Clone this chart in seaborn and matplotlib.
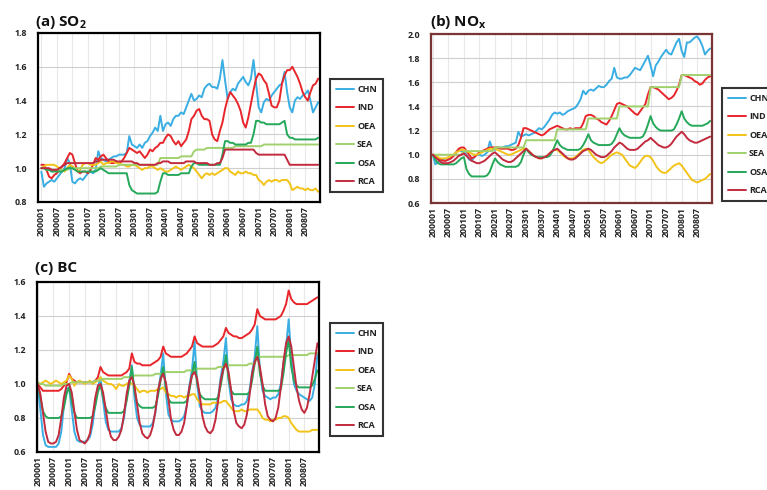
import matplotlib
matplotlib.use("Agg")
import pandas as pd
import seaborn as sns
import matplotlib.pyplot as plt

# monthly index 0..107 = 2000-01 .. 2008-12
months = list(range(108))
tick_pos = list(range(0, 108, 6))
tick_labels = ["200001", "200007", "200101", "200107", "200201", "200207",
               "200301", "200307", "200401", "200407", "200501", "200507",
               "200601", "200607", "200701", "200707", "200801", "200807"]
regions = ["CHN", "IND", "OEA", "SEA", "OSA", "RCA"]
colors = {"CHN": "#3aaee2", "IND": "#e8252b", "OEA": "#f2c318",
          "SEA": "#a0d16c", "OSA": "#26a85a", "RCA": "#c22a3e"}

# ---- (a) SO2 ----
so2_chn = [0.98, 0.89, 0.91, 0.92, 0.93, 0.92, 0.94, 0.96, 0.98, 1.00, 1.06, 1.03,
           0.92, 0.91, 0.93, 0.94, 0.93, 0.95, 0.97, 0.98, 0.97, 0.99, 1.10, 1.06,
           1.05, 1.04, 1.05, 1.06, 1.07, 1.07, 1.08, 1.08, 1.08, 1.09, 1.19, 1.14,
           1.13, 1.12, 1.14, 1.12, 1.15, 1.16, 1.19, 1.21, 1.24, 1.22, 1.31, 1.22,
           1.26, 1.27, 1.25, 1.29, 1.31, 1.31, 1.33, 1.32, 1.36, 1.40, 1.44, 1.40,
           1.41, 1.43, 1.42, 1.47, 1.49, 1.50, 1.48, 1.48, 1.47, 1.53, 1.64, 1.52,
           1.41, 1.45, 1.47, 1.46, 1.50, 1.52, 1.54, 1.51, 1.49, 1.53, 1.64, 1.50,
           1.36, 1.33, 1.39, 1.41, 1.40, 1.43, 1.45, 1.47, 1.49, 1.50, 1.57, 1.45,
           1.36, 1.33, 1.40, 1.42, 1.41, 1.43, 1.44, 1.46, 1.40, 1.33, 1.36, 1.39]
so2_ind = [1.02, 1.02, 0.99, 0.95, 0.94, 0.96, 0.97, 0.99, 1.01, 1.03, 1.06, 1.09,
           1.08, 1.03, 0.98, 0.97, 0.98, 0.98, 0.97, 0.99, 1.02, 1.06, 1.05, 1.07,
           1.08, 1.06, 1.04, 1.03, 1.03, 1.04, 1.03, 1.04, 1.06, 1.09, 1.12, 1.11,
           1.10, 1.09, 1.10, 1.08, 1.06, 1.08, 1.11, 1.10, 1.12, 1.13, 1.15, 1.15,
           1.18, 1.20, 1.19, 1.16, 1.14, 1.16, 1.13, 1.15, 1.17, 1.22, 1.29, 1.31,
           1.34, 1.35, 1.31, 1.29, 1.29, 1.28, 1.20, 1.17, 1.16, 1.22, 1.27, 1.35,
           1.41, 1.45, 1.43, 1.41, 1.38, 1.34, 1.27, 1.24, 1.30, 1.38, 1.46, 1.53,
           1.56, 1.55, 1.52, 1.50, 1.44, 1.37, 1.36, 1.36, 1.40, 1.50, 1.55, 1.58,
           1.58, 1.60, 1.57, 1.54, 1.50, 1.45, 1.42, 1.40, 1.45, 1.49, 1.50, 1.53]
so2_oea = [1.00, 1.01, 1.02, 1.02, 1.02, 1.02, 1.01, 1.00, 0.99, 0.98, 1.00, 1.02,
           1.01, 1.00, 0.98, 0.99, 1.02, 1.03, 1.03, 1.02, 1.02, 1.02, 1.03, 1.04,
           1.02, 1.03, 1.03, 1.04, 1.04, 1.03, 1.03, 1.02, 1.02, 1.01, 1.01, 1.02,
           1.02, 1.01, 1.00, 0.99, 1.00, 1.00, 1.01, 1.01, 1.00, 0.99, 1.00, 0.99,
           0.98, 0.98, 0.99, 1.00, 1.01, 1.00, 0.99, 1.00, 1.01, 1.02, 1.01, 1.00,
           0.98, 0.96, 0.94, 0.96, 0.97, 0.96, 0.97, 0.96, 0.97, 0.98, 0.99, 1.00,
           1.00, 0.98, 0.97, 0.96, 0.98, 0.97, 0.97, 0.98, 0.97, 0.97, 0.96, 0.96,
           0.93, 0.92, 0.90, 0.92, 0.93, 0.92, 0.93, 0.93, 0.92, 0.93, 0.93, 0.93,
           0.91, 0.87, 0.88, 0.89, 0.88, 0.88, 0.87, 0.88, 0.87, 0.87, 0.88, 0.86]
so2_sea = [1.00, 1.00, 0.99, 0.99, 0.99, 0.99, 0.99, 0.99, 0.99, 0.99, 0.99, 1.00,
           1.00, 1.00, 1.00, 1.00, 1.00, 1.00, 1.00, 1.00, 1.00, 1.00, 1.00, 1.01,
           1.01, 1.01, 1.01, 1.01, 1.01, 1.01, 1.02, 1.02, 1.02, 1.02, 1.02, 1.02,
           1.02, 1.02, 1.02, 1.02, 1.02, 1.02, 1.02, 1.02, 1.02, 1.02, 1.06, 1.06,
           1.06, 1.06, 1.06, 1.06, 1.06, 1.06, 1.07, 1.07, 1.07, 1.07, 1.07, 1.10,
           1.11, 1.11, 1.11, 1.11, 1.12, 1.12, 1.12, 1.12, 1.12, 1.12, 1.12, 1.12,
           1.12, 1.12, 1.12, 1.13, 1.13, 1.13, 1.13, 1.13, 1.13, 1.13, 1.13, 1.13,
           1.13, 1.13, 1.14, 1.14, 1.14, 1.14, 1.14, 1.14, 1.14, 1.14, 1.14, 1.14,
           1.14, 1.14, 1.14, 1.14, 1.14, 1.14, 1.14, 1.14, 1.14, 1.14, 1.14, 1.14]
so2_osa = [1.00, 1.00, 0.99, 0.99, 0.98, 0.98, 0.98, 0.98, 0.98, 0.99, 1.00, 1.00,
           1.00, 0.99, 0.98, 0.98, 0.98, 0.98, 0.98, 0.98, 0.98, 0.98, 0.99, 1.00,
           0.99, 0.98, 0.97, 0.97, 0.97, 0.97, 0.97, 0.97, 0.97, 0.97, 0.90, 0.87,
           0.86, 0.85, 0.85, 0.85, 0.85, 0.85, 0.85, 0.85, 0.85, 0.86, 0.92, 0.97,
           0.97, 0.96, 0.96, 0.96, 0.96, 0.96, 0.97, 0.97, 0.97, 0.97, 1.01, 1.03,
           1.03, 1.02, 1.02, 1.02, 1.02, 1.02, 1.02, 1.02, 1.02, 1.02, 1.08, 1.16,
           1.16, 1.15, 1.15, 1.14, 1.14, 1.14, 1.14, 1.14, 1.15, 1.15, 1.20, 1.28,
           1.28, 1.27, 1.27, 1.26, 1.26, 1.26, 1.26, 1.26, 1.26, 1.27, 1.28, 1.20,
           1.18, 1.18, 1.17, 1.17, 1.17, 1.17, 1.17, 1.17, 1.17, 1.17, 1.17, 1.18]
so2_rca = [1.00, 1.00, 1.00, 1.00, 0.99, 0.99, 0.99, 1.00, 1.01, 1.02, 1.03, 1.03,
           1.03, 1.03, 1.03, 1.03, 1.03, 1.03, 1.03, 1.03, 1.03, 1.04, 1.04, 1.05,
           1.05, 1.05, 1.05, 1.05, 1.05, 1.04, 1.04, 1.04, 1.04, 1.04, 1.04, 1.04,
           1.03, 1.03, 1.02, 1.02, 1.02, 1.02, 1.02, 1.02, 1.02, 1.03, 1.03, 1.04,
           1.04, 1.04, 1.03, 1.03, 1.03, 1.03, 1.03, 1.03, 1.04, 1.04, 1.04, 1.04,
           1.03, 1.03, 1.03, 1.03, 1.03, 1.02, 1.02, 1.02, 1.03, 1.03, 1.06, 1.11,
           1.11, 1.11, 1.11, 1.11, 1.11, 1.11, 1.11, 1.11, 1.11, 1.11, 1.11, 1.09,
           1.08, 1.08, 1.08, 1.08, 1.08, 1.08, 1.08, 1.08, 1.08, 1.08, 1.08, 1.05,
           1.02, 1.02, 1.02, 1.02, 1.02, 1.02, 1.02, 1.02, 1.02, 1.02, 1.02, 1.02]

# ---- (b) NOx ----
nox_chn = [1.00, 0.92, 0.94, 0.95, 0.96, 0.95, 0.96, 0.97, 0.99, 1.02, 1.04, 1.03,
           1.02, 1.00, 0.96, 0.95, 0.98, 1.00, 1.00, 0.99, 1.00, 1.02, 1.11, 1.05,
           1.04, 1.06, 1.06, 1.06, 1.07, 1.07, 1.08, 1.09, 1.10, 1.19, 1.15, 1.16,
           1.17, 1.16, 1.17, 1.18, 1.20, 1.22, 1.21, 1.23, 1.26, 1.29, 1.33, 1.35,
           1.34, 1.35, 1.33, 1.34, 1.36, 1.37, 1.38, 1.39, 1.42, 1.46, 1.53, 1.50,
           1.53, 1.54, 1.53, 1.55, 1.57, 1.56, 1.56, 1.58, 1.61, 1.63, 1.72, 1.64,
           1.63, 1.63, 1.64, 1.64, 1.66, 1.69, 1.72, 1.71, 1.70, 1.74, 1.78, 1.82,
           1.74, 1.65, 1.74, 1.77, 1.81, 1.84, 1.87, 1.84, 1.83, 1.88, 1.93, 1.96,
           1.86, 1.81, 1.93, 1.93, 1.95, 1.97, 1.98, 1.95, 1.90, 1.83, 1.86, 1.88]
nox_ind = [1.00, 0.99, 0.97, 0.96, 0.95, 0.95, 0.96, 0.97, 0.99, 1.02, 1.05, 1.06,
           1.06, 1.03, 1.00, 0.97, 0.98, 1.00, 1.02, 1.03, 1.04, 1.05, 1.06, 1.06,
           1.06, 1.06, 1.05, 1.05, 1.05, 1.05, 1.04, 1.04, 1.05, 1.08, 1.14, 1.22,
           1.22, 1.21, 1.20, 1.19, 1.18, 1.17, 1.16, 1.17, 1.19, 1.21, 1.22, 1.23,
           1.24, 1.23, 1.22, 1.21, 1.21, 1.22, 1.21, 1.22, 1.22, 1.22, 1.26, 1.32,
           1.33, 1.33, 1.32, 1.30, 1.29, 1.27, 1.26, 1.25, 1.28, 1.32, 1.37, 1.42,
           1.43, 1.42, 1.41, 1.40, 1.38, 1.36, 1.34, 1.33, 1.36, 1.39, 1.42, 1.50,
           1.56, 1.56, 1.55, 1.54, 1.52, 1.50, 1.48, 1.46, 1.47, 1.49, 1.53, 1.58,
           1.66, 1.66, 1.65, 1.64, 1.63, 1.61, 1.60, 1.58, 1.59, 1.62, 1.64, 1.65]
nox_oea = [1.00, 0.99, 0.98, 0.97, 0.97, 0.97, 0.98, 0.99, 1.00, 1.02, 1.03, 1.04,
           1.04, 1.03, 1.02, 1.01, 1.00, 1.00, 1.01, 1.02, 1.03, 1.04, 1.05, 1.05,
           1.05, 1.04, 1.03, 1.02, 1.01, 1.00, 1.00, 1.01, 1.02, 1.03, 1.04, 1.05,
           1.05, 1.03, 1.01, 0.99, 0.98, 0.97, 0.97, 0.98, 0.99, 1.01, 1.03, 1.04,
           1.04, 1.02, 1.00, 0.98, 0.97, 0.97, 0.97, 0.98, 1.00, 1.02, 1.04, 1.05,
           1.04, 1.01, 0.98, 0.96, 0.94, 0.93, 0.94, 0.96, 0.98, 1.00, 1.01, 1.02,
           1.01, 1.00, 0.97, 0.94, 0.91, 0.90, 0.89, 0.91, 0.94, 0.97, 0.99, 0.99,
           0.98, 0.95, 0.91, 0.88, 0.86, 0.85, 0.85, 0.87, 0.89, 0.91, 0.92, 0.93,
           0.91, 0.88, 0.85, 0.82, 0.79, 0.78, 0.77, 0.78, 0.79, 0.80, 0.82, 0.84]
nox_sea = [1.00] * 12 + [1.03] * 12 + [1.06] * 12 + [1.12] * 12 + [1.21] * 12 \
          + [1.30] * 12 + [1.40] * 12 + [1.56] * 12 + [1.66] * 12
nox_osa = [1.00, 0.96, 0.93, 0.92, 0.92, 0.92, 0.92, 0.92, 0.92, 0.93, 0.95, 0.97,
           0.98, 0.88, 0.84, 0.82, 0.82, 0.82, 0.82, 0.82, 0.82, 0.83, 0.86, 0.92,
           0.97, 0.94, 0.92, 0.91, 0.90, 0.90, 0.90, 0.90, 0.90, 0.91, 0.94, 1.00,
           1.05, 1.02, 1.00, 0.99, 0.98, 0.98, 0.98, 0.98, 0.98, 0.99, 1.02, 1.07,
           1.12, 1.08, 1.06, 1.05, 1.04, 1.04, 1.04, 1.04, 1.04, 1.05, 1.08, 1.12,
           1.17, 1.12, 1.10, 1.09, 1.08, 1.08, 1.08, 1.08, 1.08, 1.09, 1.12, 1.17,
           1.22, 1.18, 1.16, 1.15, 1.14, 1.14, 1.14, 1.14, 1.14, 1.15, 1.19, 1.25,
           1.32, 1.26, 1.23, 1.21, 1.20, 1.20, 1.20, 1.20, 1.20, 1.21, 1.25, 1.30,
           1.36, 1.30, 1.27, 1.25, 1.24, 1.24, 1.24, 1.24, 1.24, 1.25, 1.26, 1.28]
nox_rca = [1.00, 0.98, 0.96, 0.94, 0.93, 0.93, 0.93, 0.94, 0.95, 0.97, 0.99, 1.00,
           1.01, 0.99, 0.97, 0.95, 0.94, 0.93, 0.93, 0.94, 0.95, 0.97, 0.99, 1.01,
           1.02, 1.00, 0.98, 0.96, 0.95, 0.94, 0.94, 0.95, 0.97, 0.99, 1.01, 1.03,
           1.05, 1.03, 1.01, 0.99, 0.98, 0.97, 0.97, 0.98, 0.99, 1.01, 1.03, 1.04,
           1.05, 1.03, 1.01, 0.99, 0.97, 0.96, 0.96, 0.97, 0.99, 1.01, 1.03, 1.04,
           1.05, 1.04, 1.02, 1.00, 0.99, 0.98, 0.98, 0.99, 1.01, 1.03, 1.06, 1.08,
           1.10, 1.09, 1.07, 1.05, 1.04, 1.04, 1.04, 1.05, 1.07, 1.09, 1.11, 1.12,
           1.14, 1.12, 1.10, 1.08, 1.07, 1.06, 1.06, 1.07, 1.09, 1.12, 1.15, 1.17,
           1.19, 1.17, 1.14, 1.12, 1.11, 1.10, 1.10, 1.11, 1.12, 1.13, 1.14, 1.15]

# ---- (c) BC ----
bc_chn = [1.00, 0.85, 0.70, 0.64, 0.63, 0.63, 0.63, 0.63, 0.65, 0.72, 0.87, 0.97,
          0.98, 0.85, 0.72, 0.67, 0.66, 0.66, 0.66, 0.67, 0.69, 0.76, 0.88, 0.98,
          1.04, 0.90, 0.78, 0.73, 0.72, 0.72, 0.72, 0.72, 0.74, 0.80, 0.92, 1.01,
          1.11, 0.92, 0.80, 0.76, 0.75, 0.75, 0.75, 0.75, 0.77, 0.83, 0.95, 1.05,
          1.18, 0.95, 0.82, 0.79, 0.78, 0.78, 0.78, 0.79, 0.81, 0.87, 0.99, 1.08,
          1.25, 1.00, 0.87, 0.84, 0.83, 0.83, 0.83, 0.84, 0.86, 0.92, 1.04, 1.13,
          1.27, 1.02, 0.91, 0.88, 0.87, 0.87, 0.88, 0.88, 0.90, 0.96, 1.07, 1.16,
          1.34, 1.08, 0.96, 0.93, 0.92, 0.91, 0.92, 0.92, 0.94, 1.00, 1.12, 1.22,
          1.38, 1.15, 1.00, 0.96, 0.94, 0.93, 0.92, 0.91, 0.90, 0.92, 1.00, 1.18]
bc_ind = [1.00, 0.98, 0.96, 0.96, 0.96, 0.96, 0.96, 0.96, 0.96, 0.97, 0.99, 1.01,
          1.06, 1.03, 1.02, 1.01, 1.01, 1.01, 1.01, 1.01, 1.01, 1.01, 1.02, 1.04,
          1.10, 1.07, 1.06, 1.05, 1.05, 1.05, 1.05, 1.05, 1.05, 1.06, 1.07, 1.09,
          1.18, 1.13, 1.12, 1.12, 1.11, 1.11, 1.11, 1.11, 1.12, 1.13, 1.14, 1.16,
          1.22, 1.18, 1.17, 1.16, 1.16, 1.16, 1.16, 1.16, 1.17, 1.18, 1.20, 1.22,
          1.28, 1.24, 1.23, 1.22, 1.22, 1.22, 1.22, 1.22, 1.23, 1.24, 1.26, 1.28,
          1.33, 1.30, 1.29, 1.28, 1.28, 1.27, 1.27, 1.28, 1.29, 1.30, 1.32, 1.35,
          1.44, 1.40, 1.39, 1.38, 1.38, 1.38, 1.38, 1.38, 1.39, 1.40, 1.43, 1.47,
          1.55, 1.50, 1.48, 1.47, 1.47, 1.47, 1.47, 1.47, 1.48, 1.49, 1.50, 1.51]
bc_oea = [1.01, 1.00, 1.01, 1.02, 1.01, 1.00, 1.01, 1.02, 1.01, 1.00, 1.01, 1.02,
          1.05, 1.03, 0.99, 1.01, 1.02, 1.01, 1.00, 1.01, 1.02, 1.00, 1.01, 1.02,
          1.04, 1.02, 1.01, 1.00, 1.00, 0.99, 0.97, 1.00, 0.99, 0.99, 1.00, 1.01,
          1.00, 0.99, 0.97, 0.95, 0.96, 0.96, 0.95, 0.96, 0.96, 0.96, 0.97, 0.97,
          0.98, 0.95, 0.94, 0.93, 0.93, 0.92, 0.93, 0.93, 0.92, 0.93, 0.93, 0.94,
          0.94, 0.91, 0.89, 0.88, 0.88, 0.88, 0.88, 0.89, 0.89, 0.89, 0.89, 0.90,
          0.90, 0.88, 0.86, 0.84, 0.84, 0.84, 0.85, 0.84, 0.84, 0.85, 0.85, 0.85,
          0.85, 0.83, 0.80, 0.79, 0.79, 0.78, 0.79, 0.79, 0.80, 0.80, 0.81, 0.81,
          0.80, 0.77, 0.75, 0.73, 0.72, 0.72, 0.72, 0.72, 0.72, 0.73, 0.73, 0.73]
bc_sea = [1.01, 1.00, 1.00, 0.99, 0.99, 0.99, 0.99, 0.99, 0.99, 0.99, 1.00, 1.00,
          1.00, 1.01, 1.01, 1.01, 1.01, 1.01, 1.01, 1.01, 1.01, 1.01, 1.02, 1.02,
          1.02, 1.03, 1.03, 1.03, 1.03, 1.03, 1.03, 1.03, 1.03, 1.04, 1.04, 1.04,
          1.04, 1.05, 1.05, 1.05, 1.05, 1.05, 1.05, 1.05, 1.05, 1.06, 1.06, 1.06,
          1.06, 1.07, 1.07, 1.07, 1.07, 1.07, 1.07, 1.07, 1.07, 1.08, 1.08, 1.08,
          1.08, 1.09, 1.09, 1.09, 1.09, 1.09, 1.09, 1.09, 1.09, 1.10, 1.10, 1.10,
          1.10, 1.11, 1.11, 1.11, 1.11, 1.11, 1.11, 1.11, 1.11, 1.12, 1.12, 1.12,
          1.16, 1.16, 1.16, 1.16, 1.16, 1.16, 1.16, 1.16, 1.16, 1.16, 1.16, 1.16,
          1.17, 1.17, 1.17, 1.17, 1.17, 1.17, 1.17, 1.17, 1.18, 1.18, 1.18, 1.18]
bc_osa = [1.00, 0.92, 0.84, 0.81, 0.80, 0.80, 0.80, 0.80, 0.80, 0.81, 0.86, 0.94,
          0.98, 0.90, 0.83, 0.80, 0.80, 0.80, 0.80, 0.80, 0.80, 0.81, 0.87, 0.95,
          1.00, 0.92, 0.86, 0.83, 0.83, 0.83, 0.83, 0.83, 0.83, 0.84, 0.90, 0.99,
          1.10, 0.96, 0.89, 0.87, 0.86, 0.86, 0.86, 0.86, 0.86, 0.87, 0.93, 1.02,
          1.10, 0.98, 0.91, 0.89, 0.89, 0.89, 0.89, 0.89, 0.89, 0.90, 0.96, 1.05,
          1.13, 1.00, 0.94, 0.92, 0.91, 0.91, 0.91, 0.91, 0.91, 0.92, 0.99, 1.08,
          1.17, 1.03, 0.96, 0.94, 0.94, 0.94, 0.94, 0.94, 0.94, 0.95, 1.02, 1.12,
          1.22, 1.06, 0.99, 0.96, 0.96, 0.96, 0.96, 0.96, 0.96, 0.97, 1.06, 1.18,
          1.26, 1.10, 1.02, 0.99, 0.98, 0.98, 0.98, 0.98, 0.98, 0.99, 1.03, 1.08]
bc_rca = [1.00, 0.94, 0.83, 0.72, 0.66, 0.65, 0.65, 0.66, 0.70, 0.80, 0.92, 0.99,
          1.00, 0.95, 0.84, 0.73, 0.67, 0.66, 0.65, 0.67, 0.71, 0.81, 0.92, 0.99,
          1.00, 0.95, 0.85, 0.75, 0.69, 0.67, 0.67, 0.69, 0.73, 0.82, 0.94, 1.02,
          1.04, 0.99, 0.88, 0.77, 0.71, 0.69, 0.68, 0.70, 0.75, 0.84, 0.96, 1.03,
          1.06, 1.01, 0.91, 0.79, 0.73, 0.70, 0.70, 0.72, 0.77, 0.87, 0.98, 1.05,
          1.07, 1.03, 0.93, 0.81, 0.75, 0.72, 0.71, 0.73, 0.79, 0.90, 1.02, 1.09,
          1.12, 1.07, 0.96, 0.84, 0.77, 0.75, 0.74, 0.76, 0.82, 0.93, 1.06, 1.13,
          1.16, 1.10, 1.00, 0.88, 0.81, 0.79, 0.78, 0.80, 0.86, 0.98, 1.13, 1.24,
          1.28, 1.22, 1.10, 0.98, 0.90, 0.85, 0.83, 0.86, 0.94, 1.04, 1.14, 1.24]

so2 = [so2_chn, so2_ind, so2_oea, so2_sea, so2_osa, so2_rca]
nox = [nox_chn, nox_ind, nox_oea, nox_sea, nox_osa, nox_rca]
bc = [bc_chn, bc_ind, bc_oea, bc_sea, bc_osa, bc_rca]

sns.set_style("white")
plt.rcParams["font.family"] = ["Open Sans", "DejaVu Sans"]
plt.rcParams["font.weight"] = "bold"
plt.rcParams["mathtext.fontset"] = "custom"
plt.rcParams["mathtext.rm"] = "Open Sans:bold"
plt.rcParams["mathtext.it"] = "Open Sans:bold"
plt.rcParams["mathtext.bf"] = "Open Sans:bold"
plt.rcParams["mathtext.default"] = "rm"

fig = plt.figure(figsize=(7.67, 4.90), dpi=100)


def long_frame(series):
    rows = []
    for name, vals in zip(regions, series):
        for m, v in zip(months, vals):
            rows.append((m, v, name))
    return pd.DataFrame(rows, columns=["month", "value", "region"])


def panel(rect, series, ylim, yticks, xlim, title, title_xy, frame, leg_xy):
    ax = fig.add_axes(rect)
    sns.lineplot(data=long_frame(series), x="month", y="value", hue="region",
                 hue_order=regions, palette=colors, linewidth=1.4,
                 errorbar=None, ax=ax)
    ax.set_xlim(*xlim)
    ax.set_ylim(*ylim)
    ax.set_xticks(tick_pos)
    ax.set_xticklabels(tick_labels, rotation=90)
    ax.set_yticks(yticks)
    ax.set_yticklabels([f"{t:.1f}" for t in yticks])
    ax.set_xlabel("")
    ax.set_ylabel("")
    ax.set_axisbelow(True)
    ax.yaxis.grid(True, color="#cfcfcf", linewidth=0.8)
    ax.xaxis.grid(True, color="#e8e8e8", linewidth=0.8)
    ax.tick_params(axis="both", direction="in", length=3, width=1,
                   labelsize=6.3, colors="#222222")
    ax.tick_params(axis="x", pad=3)
    ax.tick_params(axis="y", pad=8)
    for lab in ax.get_xticklabels() + ax.get_yticklabels():
        lab.set_fontweight("bold")
    for sp in ax.spines.values():
        sp.set_linewidth(1.6)
        sp.set_color(frame)
    handles, labels = ax.get_legend_handles_labels()
    leg = ax.legend(handles, labels, loc="upper left", bbox_to_anchor=leg_xy,
                    bbox_transform=fig.transFigure, borderaxespad=0,
                    fontsize=6.5, frameon=True, fancybox=False,
                    handlelength=2.0, handletextpad=0.35, borderpad=0.65,
                    labelspacing=1.05)
    leg.get_frame().set_edgecolor("black")
    leg.get_frame().set_linewidth(1.5)
    for t in leg.get_texts():
        t.set_fontweight("bold")
        t.set_color("#222222")
    fig.text(title_xy[0], title_xy[1], title, fontsize=11, fontweight="bold",
             color="#111111")
    return ax


panel([0.0495, 0.5878, 0.3677, 0.3449], so2, (0.8, 1.8),
      [0.8, 1.0, 1.2, 1.4, 1.6, 1.8], (-1.3, 107.7),
      "(a) SO$_2$", (0.046, 0.947), "black", (0.4302, 0.8388))
panel([0.5619, 0.5857, 0.3664, 0.3449], nox, (0.6, 2.0),
      [0.6, 0.8, 1.0, 1.2, 1.4, 1.6, 1.8, 2.0], (-0.7, 107.7),
      "(b) NO$_x$", (0.560, 0.947), "#7a3434", (0.9413, 0.8204))
panel([0.0482, 0.0776, 0.3677, 0.3469], bc, (0.6, 1.6),
      [0.6, 0.8, 1.0, 1.2, 1.4, 1.6], (-0.3, 107.6),
      "(c) BC", (0.046, 0.445), "black", (0.4302, 0.3408))

fig.savefig("out.png", dpi=100)
